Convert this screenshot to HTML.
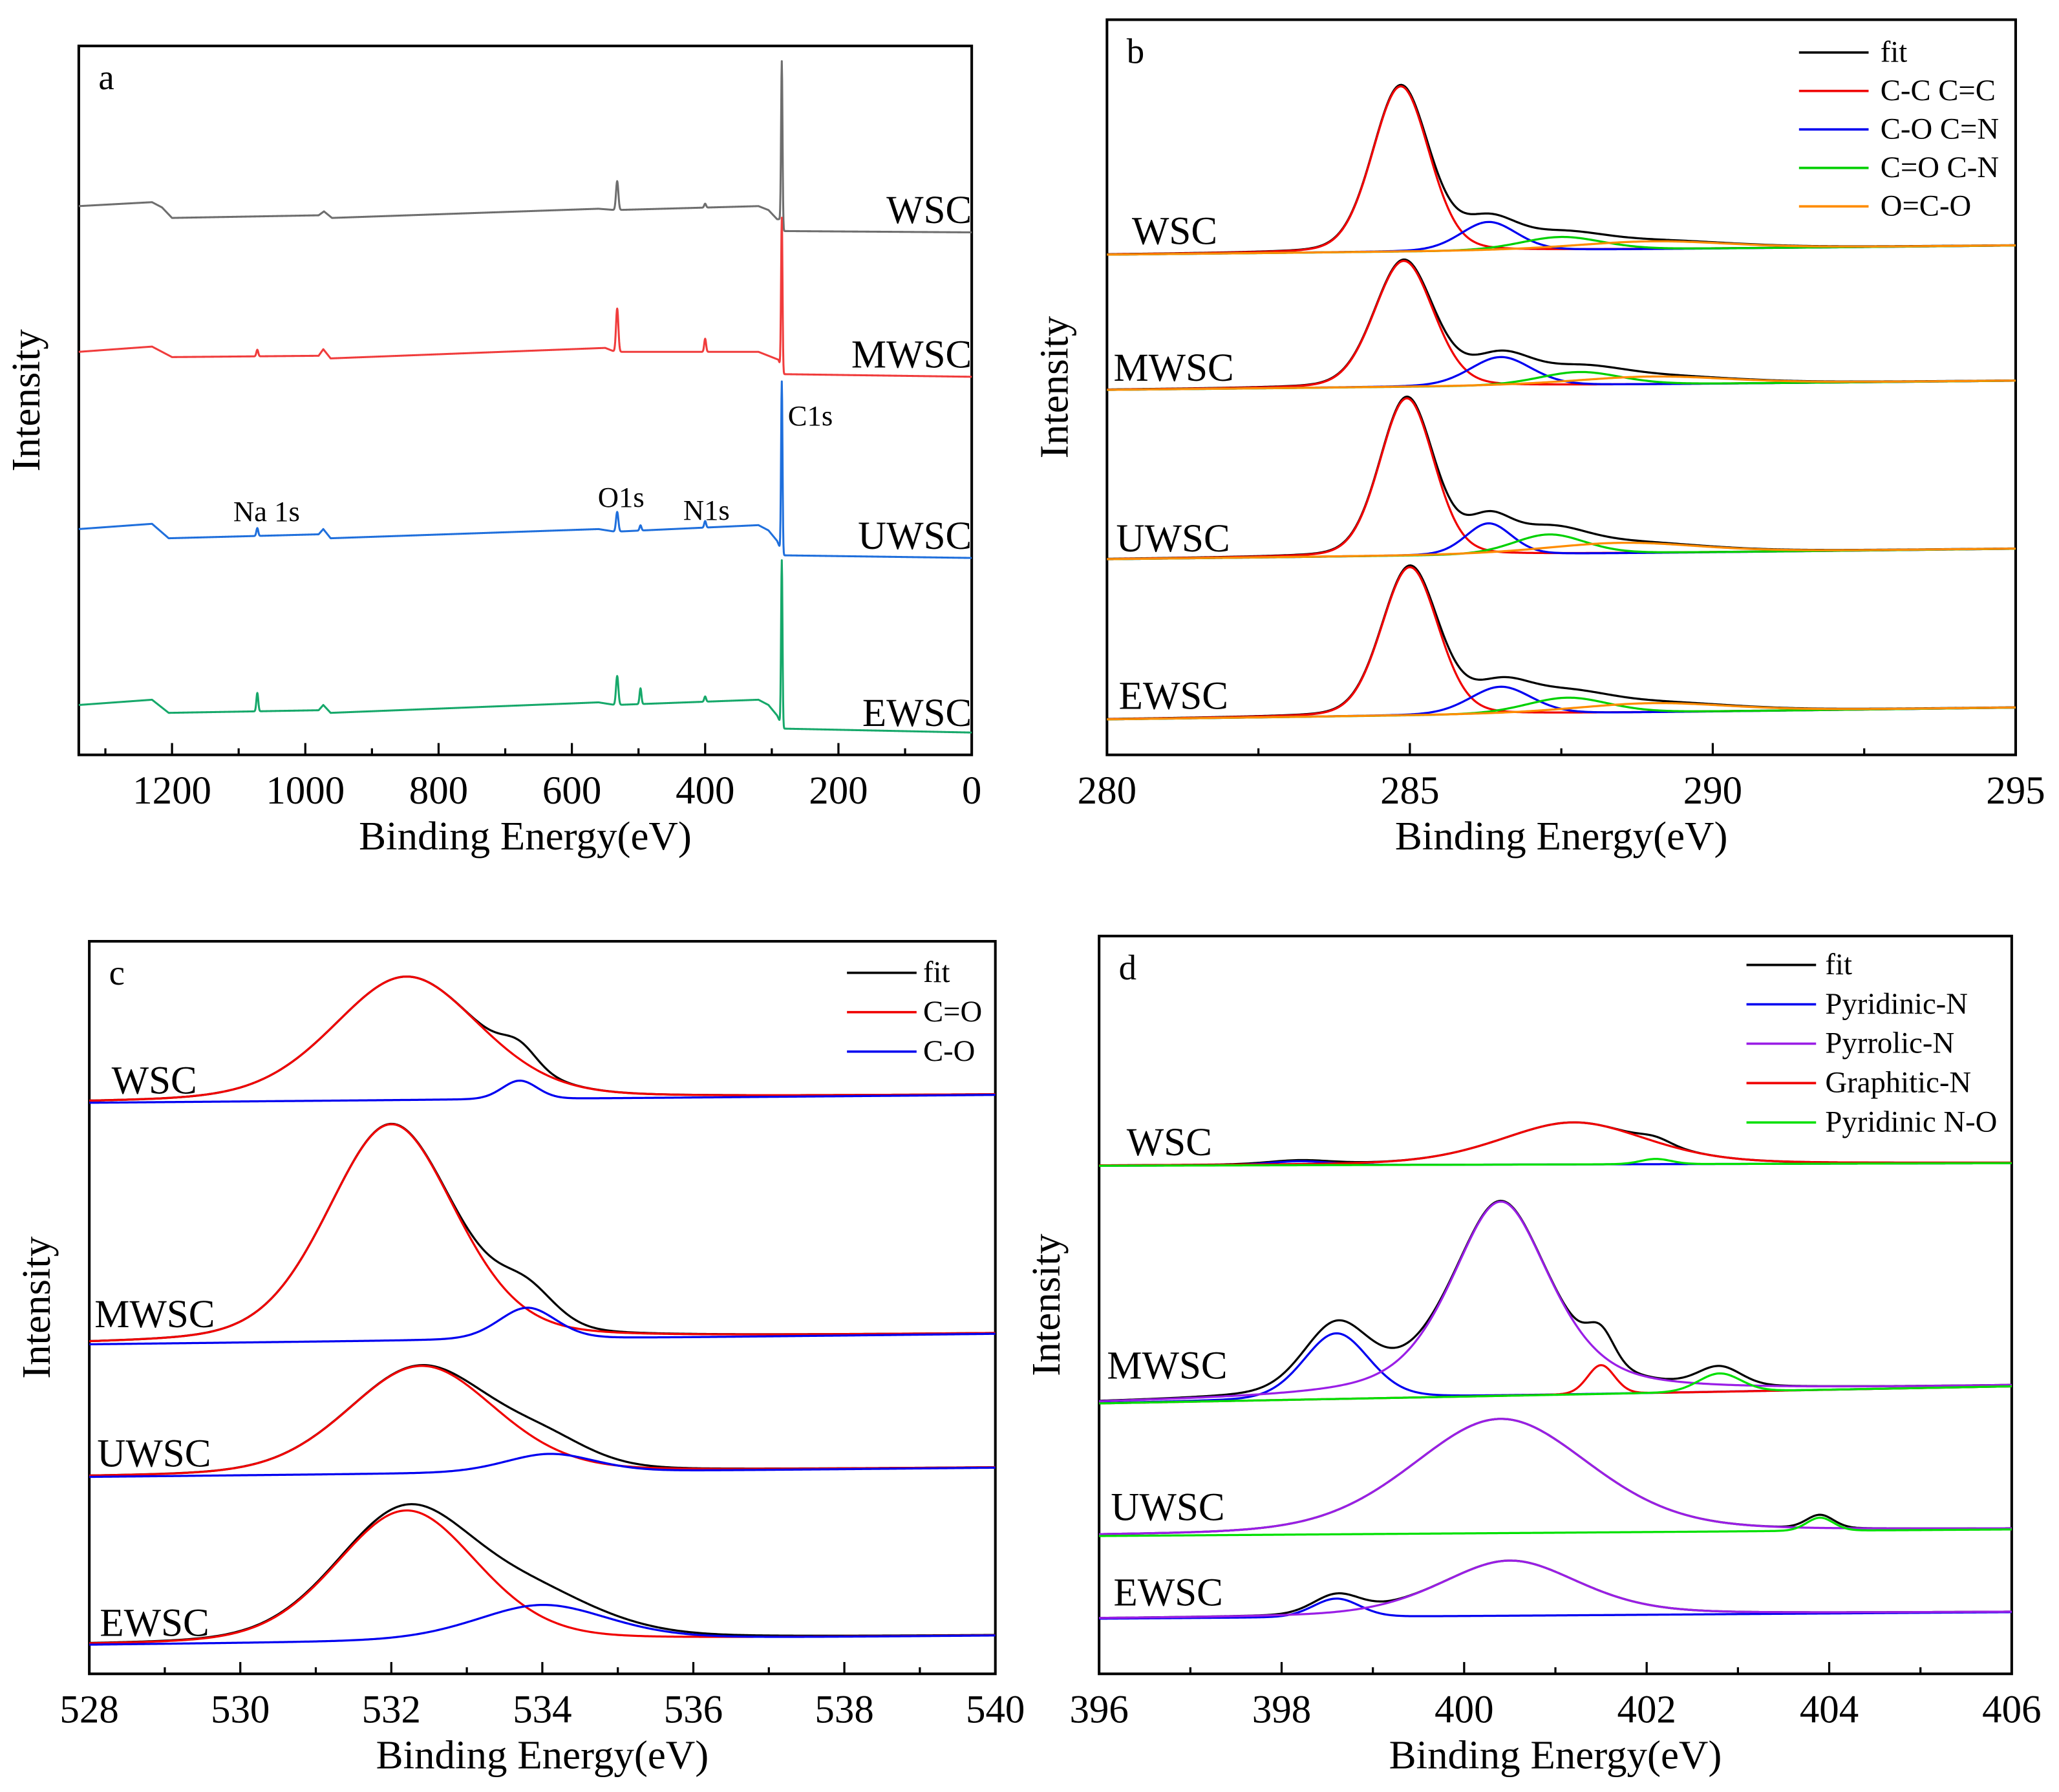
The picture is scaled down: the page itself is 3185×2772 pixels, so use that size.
<!DOCTYPE html>
<html><head><meta charset="utf-8"><style>
html,body{margin:0;padding:0;background:#fff}
svg{display:block}
text{font-family:"Liberation Serif",serif;fill:#000}
</style></head><body>
<svg id="fig" width="3185" height="2772" viewBox="0 0 1568 1365" preserveAspectRatio="none" xmlns="http://www.w3.org/2000/svg"></svg>
<script>
// ---------- Panel a: survey spectra ----------
const aSamples = ["WSC","MWSC","UWSC","EWSC"];
const aColors = ["#6e6e6e","#f03c3c","#1f6fdc","#16a86a"];
const aBaseWSC = [[1340,157],[1230,154],[1215,158],[1200,166],[980,164],[972,161],[960,166],[560,159],[535,160],[320,157],[305,160],[292,167],[287,167],[282,176],[0,177]];
const aBaseMWSC = [[1340,268],[1230,264],[1200,272],[980,271],[973,266],[962,273],[550,265],[535,268],[320,268],[300,272],[290,274],[283,285],[0,287]];
const aBaseUWSC = [[1340,403],[1230,399],[1205,410],[980,407],[973,403],[962,410],[560,403],[535,405],[320,400],[305,404],[292,412],[283,423],[0,425]];
const aBaseEWSC = [[1340,537],[1230,533],[1205,543],[980,541],[973,537],[962,543],[560,535],[535,537],[320,533],[305,537],[292,545],[283,555],[0,558]];
const aPeaksWSC = [[285,124,1.5],[532,22,2.5],[400,3,2]];
const aPeaksMWSC = [[285,116,1.5],[532,33,2.5],[400,10,2],[1072,5,2]];
const aPeaksUWSC = [[285,130,1.5],[532,15,2.5],[400,5,2],[1072,6,2],[497,4,2]];
const aPeaksEWSC = [[285,126,1.5],[532,22,2.5],[497,12,2],[1072,14,2],[400,4,2]];
const aXTicks = [1200,1000,800,600,400,200,0];

// ---------- Panel b: C1s ----------
const bSamples = ["WSC","MWSC","UWSC","EWSC"];
const bBase = [[194,187],[297,290],[426,418],[548,539]];
const bCCWSC=[284.85,126,1.1,0.15], bCOWSC=[286.3,22,1.1,0.2], bCONWSC=[287.5,10,1.6,0.2], bOCOWSC=[289.0,6,3.0,0.3];
const bCCMWSC=[284.9,96,1.15,0.15], bCOMWSC=[286.5,22,1.2,0.2], bCONMWSC=[287.8,10,1.6,0.2], bOCOMWSC=[289.0,6,3.0,0.3];
const bCCUWSC=[284.95,120,1.05,0.15], bCOUWSC=[286.3,24,0.9,0.2], bCONUWSC=[287.3,15,1.4,0.2], bOCOUWSC=[288.5,8,3.0,0.3];
const bCCEWSC=[285.0,113,1.1,0.15], bCOEWSC=[286.5,21,1.2,0.2], bCONEWSC=[287.6,12,1.6,0.2], bOCOEWSC=[289.0,7,3.0,0.3];
const bXTicks = [280,285,290,295];

// ---------- Panel c: O1s ----------
const cBase = [[840,834],[1024,1016],[1125,1118],[1253,1246]];
const cCOdWSC=[532.2,94,2.3,0.25], cCOsWSC=[533.7,14,0.55,0.1];
const cCOdMWSC=[532.0,165,2.0,0.25], cCOsMWSC=[533.8,24,0.9,0.2];
const cCOdUWSC=[532.4,82,2.3,0.2], cCOsUWSC=[534.1,14,1.4,0.2];
const cCOdEWSC=[532.2,100,2.2,0.2], cCOsEWSC=[534.0,27,2.1,0.3];
const cXTicks = [528,530,532,534,536,538,540];

// ---------- Panel d: N1s ----------
const dBase = [[888,886],[1069,1056],[1170,1165],[1233,1228]];
const dPyrdWSC=[398.2,3,0.8,0.2], dPyrlWSC=[400.4,0,1,0], dGraWSC=[401.2,32,1.9,0.3], dNOWSC=[402.1,4,0.4,0.1];
const dPyrdMWSC=[398.6,50,0.85,0.2], dPyrlMWSC=[400.4,148,1.3,0.55], dGraMWSC=[401.5,22,0.35,0.1], dNOMWSC=[402.8,14,0.55,0.1];
const dPyrdUWSC=[398.6,0,1,0], dPyrlUWSC=[400.4,87,2.3,0.25], dGraUWSC=[401,0,1,0], dNOUWSC=[403.9,10,0.35,0.1];
const dPyrdEWSC=[398.6,14,0.6,0.1], dPyrlEWSC=[400.5,42,1.8,0.35], dGraEWSC=[401,0,1,0], dNOEWSC=[402,0,1,0];
const dXTicks = [396,398,400,402,404,406];

const NS="http://www.w3.org/2000/svg";
const svg=document.getElementById('fig');
function mk(tag,attrs,parent){const e=document.createElementNS(NS,tag);for(const k in attrs)e.setAttribute(k,attrs[k]);(parent||svg).appendChild(e);return e;}
function txt(s,x,y,size,parent,anchor,name){const t=mk('text',{x:x,y:y,'font-size':size,'text-anchor':anchor||'start'},parent);t.textContent=s;

return t;}
function pv(x,p){const [c,h,w,eta]=p;if(!h)return 0;const d=(x-c)/(w/2);return h*((1-eta)*Math.exp(-Math.LN2*d*d)+eta/(1+d*d));}
function poly(pts,color,parent,name,sw){const p=mk('polyline',{points:pts.map(q=>q[0].toFixed(2)+','+q[1].toFixed(2)).join(' '),fill:'none',stroke:color,'stroke-width':sw||1.6,'stroke-linejoin':'round'},parent);

return p;}

function frame(g,x0,y0,x1,y1,xs,ticks,minorStep,xmin,xmax,letter){
  const r=mk('rect',{x:x0,y:y0,width:x1-x0,height:y1-y0,fill:'none',stroke:'#000','stroke-width':2},g);
  
  
  const lo=Math.min(xmin,xmax),hi=Math.max(xmin,xmax);
  for(let v=Math.ceil(lo/minorStep)*minorStep;v<=hi+1e-9;v+=minorStep){
    const X=xs(v);const major=ticks.some(t=>Math.abs(t-v)<1e-6);
    const l=mk('line',{x1:X,x2:X,y1:y1,y2:y1-(major?9:5),stroke:'#000','stroke-width':1.6},g);
    
    
  }
  ticks.forEach(t=>txt(String(t),xs(t),y1+37,30,g,'middle','x-tick-label'));
  txt('Binding Energy(eV)',(x0+x1)/2,y1+72,31,g,'middle','x-axis-title');
  const yt=txt('Intensity',0,0,31,g,'middle','y-axis-title');
  yt.setAttribute('transform','translate('+(x0-30)+','+((y0+y1)/2)+') rotate(-90)');
  txt(letter,x0+15,y0+33,27,g,'start','panel-letter');
}
function lin(e0,p0,e1,p1){return v=>p0+(v-e0)*(p1-p0)/(e1-e0);}
function grp(name){const g=mk('g',{},svg);return g;}

// ---- Panel a
(function(){
  const g=grp('panel-a-survey');
  const xs=lin(1200,131,0,740);
  frame(g,60,35,740,575,xs,aXTicks,100,1340,0,'a');
  const bases=[aBaseWSC,aBaseMWSC,aBaseUWSC,aBaseEWSC];
  const peaks=[aPeaksWSC,aPeaksMWSC,aPeaksUWSC,aPeaksEWSC];
  const labY=[170,280,418,553];
  bases.forEach((b,i)=>{
    const pts=[];
    for(let E=1340;E>=0;E-=0.5){
      let k=0;while(k<b.length-2&&E<b[k+1][0])k++;
      const [e0,y0]=b[k],[e1,y1]=b[k+1];
      let y=y0+(E-e0)*(y1-y0)/(e1-e0);
      peaks[i].forEach(p=>{const d=(E-p[0])/p[2];y-=p[1]*Math.exp(-d*d);});
      pts.push([xs(E),y]);
    }
    poly(pts,aColors[i],g,'survey-'+aSamples[i].toLowerCase(),1.5);
    txt(aSamples[i],740,labY[i],30,g,'end','label-'+aSamples[i].toLowerCase());
  });
  txt('Na 1s',203,397,22,g,'middle','annot-na1s');
  txt('O1s',473,386,22,g,'middle','annot-o1s');
  txt('N1s',538,396,22,g,'middle','annot-n1s');
  txt('C1s',600,324,22,g,'start','annot-c1s');
})();

function fitPanel(name,letter,x0,y0,x1,y1,e0,e1,ticks,minor,bases,comps,colors,names,labels,labPos,legendPos){
  const g=grp(name);
  const xs=lin(e0,x0,e1,x1);
  frame(g,x0,y0,x1,y1,xs,ticks,minor,e0,e1,letter);
  bases.forEach((b,i)=>{
    const base=E=>b[0]+(E-e0)*(b[1]-b[0])/(e1-e0);
    const N=500;
    const fit=[];const cs=comps[i].map(()=>[]);
    for(let j=0;j<=N;j++){
      const E=e0+(e1-e0)*j/N;let s=0;
      comps[i].forEach((p,k)=>{const v=pv(E,p);s+=v;cs[k].push([xs(E),base(E)-v]);});
      fit.push([xs(E),base(E)-s]);
    }
    poly(fit,colors[0],g,'fit-'+labels[i].toLowerCase());
    comps[i].forEach((p,k)=>{if(p[1]>0)poly(cs[k],colors[k+1],g,names[k+1]+'-'+labels[i].toLowerCase());});
    txt(labels[i],labPos[i][0],labPos[i][1],30,g,'start','label-'+labels[i].toLowerCase());
  });
  const [lx,ly,dy]=legendPos;
  names.forEach((n,k)=>{
    const l=mk('line',{x1:lx,x2:lx+53,y1:ly+k*dy-6,y2:ly+k*dy-6,stroke:colors[k],'stroke-width':1.8},g);
    
    
  });
  return g;
}

fitPanel('panel-b-c1s','b',843,15,1535,575,280,295,bXTicks,2.5,bBase,
 [[bCCWSC,bCOWSC,bCONWSC,bOCOWSC],[bCCMWSC,bCOMWSC,bCONMWSC,bOCOMWSC],[bCCUWSC,bCOUWSC,bCONUWSC,bOCOUWSC],[bCCEWSC,bCOEWSC,bCONEWSC,bOCOEWSC]],
 ['#000','#f00000','#0000f0','#00d000','#ff8c00'],['fit','cc','co','con','oco'],bSamples,
 [[862,186],[848,290],[850,420],[852,540]],[1370,46,29.3]);
['fit','C-C C=C','C-O C=N','C=O C-N','O=C-O'].forEach((s,k)=>txt(s,1432,47+k*29.3,23,svg,'start','legend-text'));

fitPanel('panel-c-o1s','c',68,717,758,1275,528,540,cXTicks,1,cBase,
 [[cCOdWSC,cCOsWSC],[cCOdMWSC,cCOsMWSC],[cCOdUWSC,cCOsUWSC],[cCOdEWSC,cCOsEWSC]],
 ['#000','#f00000','#0000f0'],['fit','c-double-o','c-single-o'],bSamples,
 [[85,833],[72,1011],[74,1117],[76,1246]],[645,747,30]);
['fit','C=O','C-O'].forEach((s,k)=>txt(s,703,748+k*30,23,svg,'start','legend-text'));

fitPanel('panel-d-n1s','d',837,713,1532,1275,396,406,dXTicks,1,dBase,
 [[dPyrdWSC,dPyrlWSC,dGraWSC,dNOWSC],[dPyrdMWSC,dPyrlMWSC,dGraMWSC,dNOMWSC],[dPyrdUWSC,dPyrlUWSC,dGraUWSC,dNOUWSC],[dPyrdEWSC,dPyrlEWSC,dGraEWSC,dNOEWSC]],
 ['#000','#0000f0','#9a1ee6','#f00000','#00e000'],['fit','pyridinic','pyrrolic','graphitic','pyridinic-no'],bSamples,
 [[858,880],[843,1050],[846,1158],[848,1223]],[1330,741,30]);
['fit','Pyridinic-N','Pyrrolic-N','Graphitic-N','Pyridinic N-O'].forEach((s,k)=>txt(s,1390,742+k*30,23,svg,'start','legend-text'));
</script>
</body></html>
